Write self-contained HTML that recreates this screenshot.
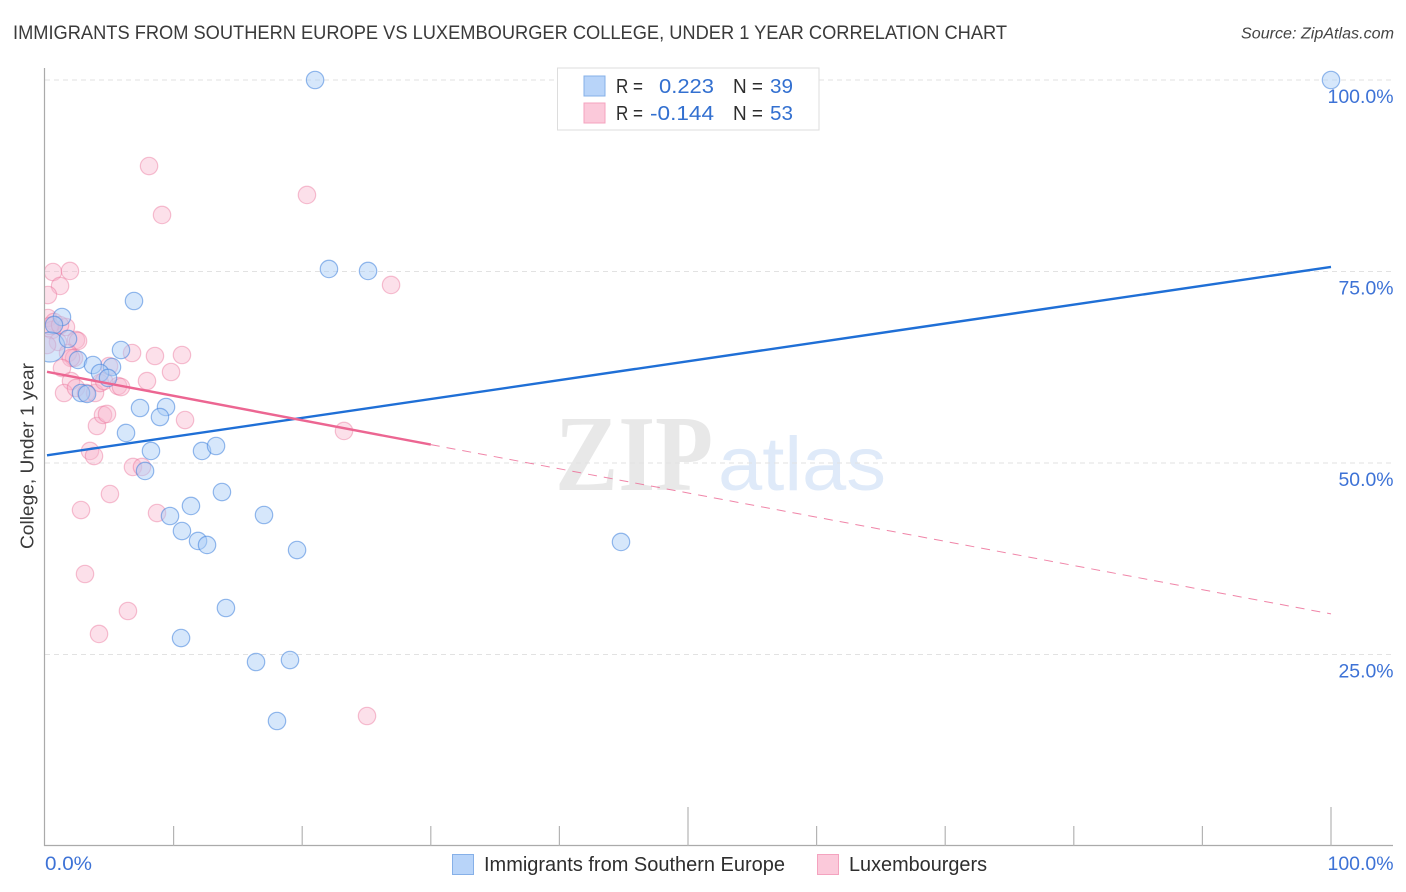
<!DOCTYPE html>
<html lang="en">
<head>
<meta charset="utf-8">
<title>Immigrants from Southern Europe vs Luxembourger College, Under 1 Year Correlation Chart</title>
<style>
html,body{margin:0;padding:0;background:#fff;}
body{width:1406px;height:892px;overflow:hidden;font-family:"Liberation Sans",sans-serif;}
svg{display:block;}
text{font-family:"Liberation Sans",sans-serif;}
</style>
</head>
<body>
<svg id="chart" xmlns="http://www.w3.org/2000/svg" width="1406" height="892" viewBox="0 0 1406 892">
  <defs>
    <clipPath id="plot-clip"><rect x="45" y="60" width="1361" height="786"/></clipPath>
  </defs>
  <rect width="1406" height="892" fill="#ffffff"/>
  <text x="13" y="39" font-size="19.5" fill="#3a3a3a" textLength="994" lengthAdjust="spacingAndGlyphs">IMMIGRANTS FROM SOUTHERN EUROPE VS LUXEMBOURGER COLLEGE, UNDER 1 YEAR CORRELATION CHART</text>
  <text x="1394" y="38.500" font-size="15.500" font-style="italic" fill="#444444" text-anchor="end" textLength="153" lengthAdjust="spacingAndGlyphs">Source: ZipAtlas.com</text>

  <g>
    <text x="555" y="490" font-size="108" font-weight="bold" fill="#e8e8e8" textLength="158" lengthAdjust="spacingAndGlyphs" style="font-family:'Liberation Serif',serif">ZIP</text>
    <text x="718" y="490" font-size="76" fill="#dfeaf9" textLength="168" lengthAdjust="spacingAndGlyphs">atlas</text>
  </g>

  <g id="grid"></g>
  <g id="axes"></g>
  <g id="pink-points" clip-path="url(#plot-clip)"></g>
  <g id="blue-points" clip-path="url(#plot-clip)"></g>
  <g id="trends"></g>

  <text transform="translate(33.500,549) rotate(-90)" font-size="18" fill="#3a3a3a" textLength="186" lengthAdjust="spacingAndGlyphs">College, Under 1 year</text>

  <g>
    <rect x="557.500" y="68" width="261.500" height="62" fill="#ffffff" stroke="#dddddd" stroke-width="1"/>
    <rect x="584" y="76" width="21" height="20" fill="#b8d4f9" stroke="#86b0e8" stroke-width="1"/>
    <rect x="584" y="103" width="21" height="20" fill="#fbc9da" stroke="#f4a3bf" stroke-width="1"/>
    <g font-size="20">
      <text x="616" y="93" fill="#2e2e2e" textLength="27" lengthAdjust="spacingAndGlyphs">R =</text>
      <text x="659" y="93" fill="#3370d0" textLength="55" lengthAdjust="spacingAndGlyphs">0.223</text>
      <text x="733" y="93" fill="#2e2e2e" textLength="30" lengthAdjust="spacingAndGlyphs">N =</text>
      <text x="770" y="93" fill="#3370d0" textLength="23" lengthAdjust="spacingAndGlyphs">39</text>
      <text x="616" y="120" fill="#2e2e2e" textLength="27" lengthAdjust="spacingAndGlyphs">R =</text>
      <text x="650" y="120" fill="#3370d0" textLength="64" lengthAdjust="spacingAndGlyphs">-0.144</text>
      <text x="733" y="120" fill="#2e2e2e" textLength="30" lengthAdjust="spacingAndGlyphs">N =</text>
      <text x="770" y="120" fill="#3370d0" textLength="23" lengthAdjust="spacingAndGlyphs">53</text>
    </g>
  </g>

  <g>
    <rect x="452.500" y="854.500" width="21" height="20" fill="#b8d4f9" stroke="#86b0e8" stroke-width="1"/>
    <text x="484" y="871" font-size="20" fill="#2e2e2e" textLength="301" lengthAdjust="spacingAndGlyphs">Immigrants from Southern Europe</text>
    <rect x="817.500" y="854.500" width="21" height="20" fill="#fbc9da" stroke="#f4a3bf" stroke-width="1"/>
    <text x="849" y="871" font-size="20" fill="#2e2e2e" textLength="138" lengthAdjust="spacingAndGlyphs">Luxembourgers</text>
  </g>
</svg>
<script>
const xTicks = [0, 10, 20, 30, 40, 50, 60, 70, 80, 90, 100];
const xTickLabels = ["0.0%", "100.0%"];
const yTicks = [25, 50, 75, 100];
const yTickLabels = ["25.0%", "50.0%", "75.0%", "100.0%"];

const blueX = [21.0,100,22.08,25.12,6.92,1.32,0.70,0.39,1.79,5.91,2.57,3.73,5.21,4.28,4.90,2.80,3.27,7.39,9.41,8.94,6.30,8.24,12.21,13.30,7.78,13.76,11.35,9.72,17.03,10.65,11.90,12.60,19.60,44.79,14.07,10.58,16.41,19.05,18.04];
const blueY = [100,100,75.33,75.07,71.15,69.06,68.02,65.14,66.19,64.75,63.45,62.79,62.53,61.75,61.10,59.14,59.01,57.18,57.31,56.0,53.92,51.57,51.57,52.22,48.96,46.21,44.39,43.08,43.21,41.12,39.82,39.30,38.64,39.69,31.07,27.15,24.02,24.28,16.32];
const pinkX = [8.09,9.10,20.37,26.91,0.62,1.94,1.17,0.23,0.23,0.70,1.63,0.54,1.01,2.41,2.57,1.79,2.26,2.02,6.77,8.55,10.65,9.80,7.93,1.32,2.02,1.48,2.41,3.19,3.89,4.28,4.59,4.98,5.68,5.91,10.89,23.25,4.04,4.51,4.82,3.50,3.81,6.84,7.54,5.05,2.80,8.71,3.11,6.45,4.20,25.04,0.39,0.16,1.17];
const pinkY = [88.77,82.38,84.99,73.24,74.93,75.07,73.11,71.93,68.93,68.41,67.75,67.36,65.80,66.06,65.93,64.36,63.71,63.71,64.36,63.97,64.10,61.88,60.70,62.40,60.70,59.14,59.79,59.14,59.14,60.44,60.70,62.66,60.05,59.92,55.61,54.18,54.83,56.27,56.40,51.57,50.91,49.48,49.48,45.95,43.86,43.47,35.51,30.68,27.68,16.97,67.89,65.40,68.0];
const blueLineX = [0, 100];
const blueLineY = [51, 75.6];
const pinkLineX = [0, 30, 100];
const pinkLineY = [61.9, 52.4, 30.3];

const NS = 'http://www.w3.org/2000/svg';
const xScale = v => 45 + 12.86 * v;
const yScale = v => 846 - 7.66 * v;

function make(parent, tag, attrs) {
  const el = document.createElementNS(NS, tag);
  for (const k in attrs) el.setAttribute(k, attrs[k]);
  parent.appendChild(el);
  return el;
}

const grid = document.getElementById('grid');
const axes = document.getElementById('axes');
const pinkG = document.getElementById('pink-points');
const blueG = document.getElementById('blue-points');
const trends = document.getElementById('trends');

yTicks.forEach(function (t) {
  const line = make(grid, 'line', {x1: 45, x2: 1393, y1: yScale(t), y2: yScale(t), stroke: '#e2e2e2', 'stroke-width': 1, 'stroke-dasharray': '5 4'});
  
  
});

const yAxisLine = make(axes, 'line', {x1: 44.5, x2: 44.5, y1: 68, y2: 846, stroke: '#aaaaaa', 'stroke-width': 1.2});


const xAxisLine = make(axes, 'line', {x1: 44, x2: 1393, y1: 845.5, y2: 845.5, stroke: '#aaaaaa', 'stroke-width': 1.2});



xTicks.forEach(function (t) {
  if (t === 0) return;
  const top = (t % 50 === 0) ? 807 : 826;
  const tick = make(axes, 'line', {x1: xScale(t), x2: xScale(t), y1: top, y2: 846, stroke: '#b4b4b4', 'stroke-width': 1.2});
  
  
});

yTicks.forEach(function (t, i) {
  const label = make(axes, 'text', {x: 1393.5, y: yScale(t) + 23, 'font-size': 19, fill: '#3d72d6', 'text-anchor': 'end', textLength: t === 100 ? 66 : 55, lengthAdjust: 'spacingAndGlyphs'});
  
  
  label.textContent = yTickLabels[i];
});

const xLabelLeft = make(axes, 'text', {x: 45, y: 870, 'font-size': 19, fill: '#3d72d6', textLength: 47, lengthAdjust: 'spacingAndGlyphs'});


xLabelLeft.textContent = xTickLabels[0];
const xLabelRight = make(axes, 'text', {x: 1393.5, y: 870, 'font-size': 19, fill: '#3d72d6', 'text-anchor': 'end', textLength: 66, lengthAdjust: 'spacingAndGlyphs'});


xLabelRight.textContent = xTickLabels[1];

pinkX.forEach(function (v, i) {
  const c = make(pinkG, 'circle', {cx: xScale(v), cy: yScale(pinkY[i]), r: 8.7, fill: '#f8b6cc', 'fill-opacity': 0.42, stroke: '#ea6d97', 'stroke-opacity': 0.42, 'stroke-width': 1.2});
  
  
});

const largeBlueIndex = 7;
blueX.forEach(function (v, i) {
  const c = make(blueG, 'circle', {cx: xScale(v), cy: yScale(blueY[i]), r: i === largeBlueIndex ? 15 : 8.7, fill: '#a9ccf7', 'fill-opacity': 0.48, stroke: '#3f82dc', 'stroke-opacity': 0.55, 'stroke-width': 1.2});
  
  
});

const blueTrend = make(trends, 'line', {x1: xScale(blueLineX[0]) + 2, y1: yScale(blueLineY[0]), x2: xScale(blueLineX[1]), y2: yScale(blueLineY[1]), stroke: '#1f6fd6', 'stroke-width': 2.4});


const pinkTrend = make(trends, 'line', {x1: xScale(pinkLineX[0]) + 2, y1: yScale(pinkLineY[0]), x2: xScale(pinkLineX[1]), y2: yScale(pinkLineY[1]), stroke: '#ec6692', 'stroke-width': 2.4});


const pinkDash = make(trends, 'line', {x1: xScale(pinkLineX[1]), y1: yScale(pinkLineY[1]), x2: xScale(pinkLineX[2]), y2: yScale(pinkLineY[2]), stroke: '#ec6692', 'stroke-opacity': 0.8, 'stroke-width': 1, 'stroke-dasharray': '9 7'});


</script>
</body>
</html>
